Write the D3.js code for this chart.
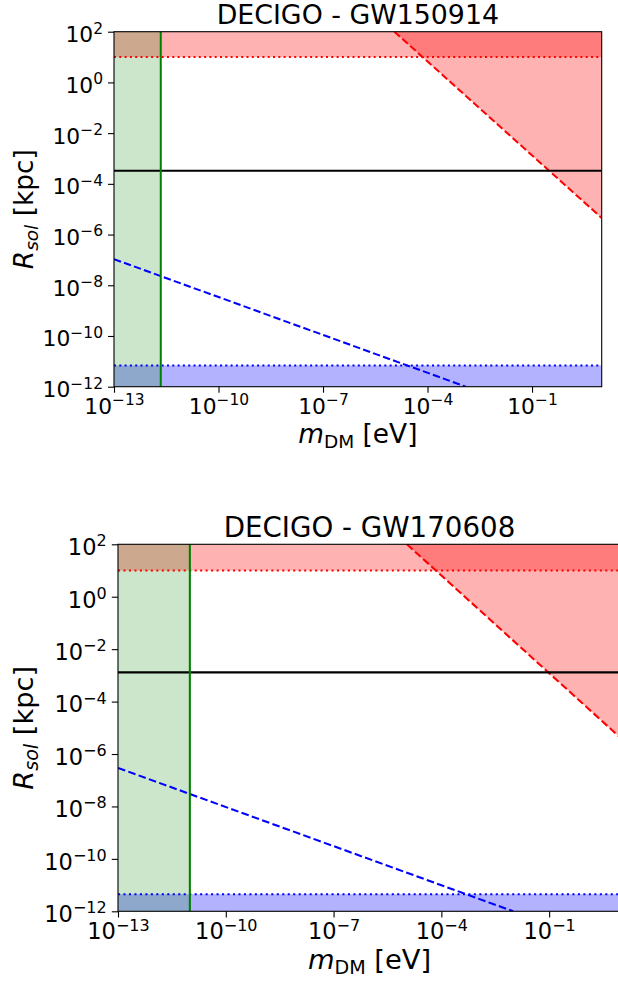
<!DOCTYPE html>
<html>
<head>
<meta charset="utf-8">
<script src="https://cdn.jsdelivr.net/npm/d3@7"></script>
<style>
body { margin: 0; background: #fff; }
svg { display: block; font-family: "DejaVu Sans", sans-serif; }
</style>
</head>
<body>
<div id="chart"></div>
<script>
// one entry per panel, top to bottom
var titles = ["DECIGO - GW150914", "DECIGO - GW170608"];
var massCut = [2.2e-12, 1.0e-11];       // green vertical line, eV
var upperBound = [10, 10];              // red dotted line, kpc
var lowerBound = [6.9e-12, 4.5e-12];    // blue dotted line, kpc
var solitonR = [3.3e-4, 1.3e-3];        // black line, kpc
var redDashed = [
    [[1.12e-5, 1e2], [1e1, 4.5e-6]],
    [[1.1e-5, 1e2], [1e1, 4.0e-6]]
];
var blueDashed = [
    [[1e-13, 1.07e-7], [1.26e-3, 1e-12]],
    [[1e-13, 2.95e-7], [1.0e-2, 1e-12]]
];
var xDomain = [1e-13, 1e1];
var yDomain = [1e-12, 1e2];
var xTicks = [1e-13, 1e-10, 1e-7, 1e-4, 1e-1];
var yTicks = [1e2, 1e0, 1e-2, 1e-4, 1e-6, 1e-8, 1e-10, 1e-12];

// layout of the two panels (second one is slightly larger)
var panels = [
    { left: 114, top: 31.7, width: 487.7, height: 355, s: 1 },
    { left: 118, top: 544.3, width: 503, height: 367, s: 1.033 }
];

var svg = d3.select("#chart")
    .append("svg")
    .attr("width", 618)
    .attr("height", 981);

function sciLabel(sel, s) {
    sel.each(function (d) {
        var t = d3.select(this).text(null);
        var e = Math.round(Math.log10(d));
        t.append("tspan").text("10");
        t.append("tspan")
            .attr("font-size", 15.5 * s)
            .attr("dy", -8.6 * s)
            .text(e < 0 ? "\u2212" + (-e) : e);
    });
}

function DrawPanel(i) {
    var p = panels[i], s = p.s;
    var g = svg.append("g")
        .attr("transform", "translate(" + p.left + "," + p.top + ")");

    var x = d3.scaleLog().domain(xDomain).range([0, p.width]);
    var y = d3.scaleLog().domain(yDomain).range([p.height, 0]);

    g.append("clipPath").attr("id", "clip" + i)
        .append("rect").attr("width", p.width).attr("height", p.height);
    var plot = g.append("g").attr("clip-path", "url(#clip" + i + ")");

    // red band above the dotted bound
    plot.append("rect")
        .attr("x", 0).attr("y", y(yDomain[1]))
        .attr("width", p.width)
        .attr("height", y(upperBound[i]) - y(yDomain[1]))
        .attr("fill", "red").attr("fill-opacity", 0.3);

    // red region above the dashed line
    var tri = redDashed[i].concat([[xDomain[1], yDomain[1]]]);
    plot.append("path")
        .attr("d", d3.line().x(function (d) { return x(d[0]); }).y(function (d) { return y(d[1]); })(tri) + "Z")
        .attr("fill", "red").attr("fill-opacity", 0.3);

    // blue band below the dotted bound
    plot.append("rect")
        .attr("x", 0).attr("y", y(lowerBound[i]))
        .attr("width", p.width)
        .attr("height", y(yDomain[0]) - y(lowerBound[i]))
        .attr("fill", "blue").attr("fill-opacity", 0.3);

    // green band left of the mass cut
    plot.append("rect")
        .attr("x", x(xDomain[0])).attr("y", 0)
        .attr("width", x(massCut[i]) - x(xDomain[0]))
        .attr("height", p.height)
        .attr("fill", "green").attr("fill-opacity", 0.2);

    var lw = 2 * s;
    function hline(v, color, dash) {
        plot.append("line")
            .attr("x1", 0).attr("x2", p.width)
            .attr("y1", y(v)).attr("y2", y(v))
            .attr("stroke", color).attr("stroke-width", lw)
            .attr("stroke-dasharray", dash);
    }
    var dotted = (1 * lw) + "," + (1.65 * lw);
    var dashed = (3.7 * lw) + "," + (1.6 * lw);
    hline(upperBound[i], "red", dotted);
    hline(lowerBound[i], "blue", dotted);

    var line = d3.line()
        .x(function (d) { return x(d[0]); })
        .y(function (d) { return y(d[1]); });
    plot.append("path").datum(redDashed[i])
        .attr("d", line).attr("fill", "none")
        .attr("stroke", "red").attr("stroke-width", lw)
        .attr("stroke-dasharray", dashed);
    plot.append("path").datum(blueDashed[i])
        .attr("d", line).attr("fill", "none")
        .attr("stroke", "blue").attr("stroke-width", lw)
        .attr("stroke-dasharray", dashed);

    hline(solitonR[i], "black", null);

    plot.append("line")
        .attr("x1", x(massCut[i])).attr("x2", x(massCut[i]))
        .attr("y1", 0).attr("y2", p.height)
        .attr("stroke", "green").attr("stroke-width", lw);

    // frame
    g.append("rect")
        .attr("width", p.width).attr("height", p.height)
        .attr("fill", "none").attr("stroke", "black").attr("stroke-width", 1.1);

    // x axis
    var xa = g.append("g")
        .attr("transform", "translate(0," + p.height + ")")
        .call(d3.axisBottom(x).tickValues(xTicks).tickSize(6 * s).tickSizeOuter(0));
    xa.select(".domain").remove();
    xa.attr("font-size", 21.8 * s).attr("font-family", null);
    xa.selectAll(".tick line").attr("stroke-width", 1.1);
    xa.selectAll(".tick text")
        .attr("y", 27.3 * s).attr("dy", null)
        .attr("fill", "black")
        .call(sciLabel, s);

    // y axis
    var ya = g.append("g")
        .call(d3.axisLeft(y).tickValues(yTicks).tickSize(6 * s).tickSizeOuter(0));
    ya.select(".domain").remove();
    ya.attr("font-size", 21.8 * s).attr("font-family", null);
    ya.selectAll(".tick line").attr("stroke-width", 1.1);
    ya.selectAll(".tick text")
        .attr("x", -11 * s).attr("y", 10 * s).attr("dy", null)
        .attr("fill", "black")
        .call(sciLabel, s);

    // title
    g.append("text")
        .attr("x", p.width / 2).attr("y", -7.5 * s)
        .attr("text-anchor", "middle")
        .attr("font-size", 26.8 * s)
        .text(titles[i]);

    // x label
    var xl = g.append("text")
        .attr("x", p.width / 2).attr("y", p.height + 56 * s)
        .attr("text-anchor", "middle")
        .attr("font-size", 26.4 * s);
    xl.append("tspan").attr("font-style", "italic").text("m");
    xl.append("tspan").attr("font-size", 18.5 * s).attr("dy", 5 * s).text("DM");
    xl.append("tspan").attr("dy", -5 * s).text(" [eV]");

    // y label
    var yl = g.append("text")
        .attr("transform", "translate(" + (33 - p.left) + "," + (p.height / 2) + ") rotate(-90)")
        .attr("text-anchor", "middle")
        .attr("font-size", 26.4 * s);
    yl.append("tspan").attr("font-style", "italic").text("R");
    yl.append("tspan").attr("font-style", "italic").attr("font-size", 18.5 * s).attr("dy", 5 * s).text("sol");
    yl.append("tspan").attr("dy", -5 * s).text(" [kpc]");
}

DrawPanel(0);
DrawPanel(1);
</script>
</body>
</html>
